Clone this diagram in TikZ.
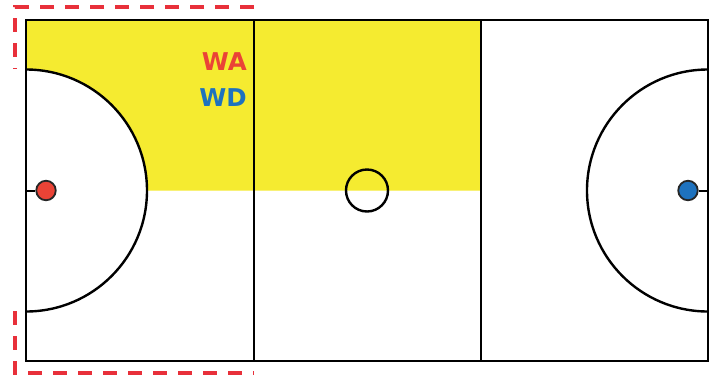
\documentclass[tikz,border=0pt]{standalone}
\usepackage{fontspec}
\setmainfont{DejaVu Sans}
\begin{document}
\begin{tikzpicture}[x=1pt,y=-1pt,
  courtline/.style={draw=black,line width=2.4pt},
  thirdline/.style={draw=black,line width=2.3pt},
  zonebox/.style={draw=zonered,line width=3.2pt,dash pattern=on 14pt off 11pt},
  dotstyle/.style={circle,draw=black!85,line width=1.8pt,minimum size=19.5pt,inner sep=0pt},
  poslabel/.style={font=\bfseries\fontsize{24.5}{26}\selectfont,inner sep=0pt,anchor=east}]
\definecolor{zonered}{HTML}{E8303A}
\definecolor{wared}{HTML}{EA4336}
\definecolor{wdblue}{HTML}{1E72BE}
\definecolor{courtyellow}{HTML}{F5EB30}
\useasboundingbox (0,0) rectangle (716,376);
\fill[white] (0,0) rectangle (716,376);
% yellow zone
\fill[courtyellow] (26,20) -- (481,20) -- (481,190.5) -- (147,190.5)
  arc[start angle=0,end angle=-90,radius=121] -- cycle;
% court
\coordinate (tl) at (26,20);
\coordinate (br) at (708,361);
\draw[courtline] (tl) rectangle (br);
\coordinate (t1) at (254,20); \coordinate (b1) at (254,361);
\coordinate (t2) at (481,20); \coordinate (b2) at (481,361);
\draw[thirdline] (t1) -- (b1);
\draw[thirdline] (t2) -- (b2);
% shooting circles
\draw[courtline] (26,69.5) arc[start angle=-90,end angle=90,radius=121];
\draw[courtline] (708,69.5) arc[start angle=270,end angle=90,radius=121];
% centre circle
\node[circle,draw=black,line width=2.4pt,minimum size=42pt,inner sep=0pt] (cc) at (367,190.5) {};
% goal posts
\coordinate (lp) at (26,190.5);
\coordinate (rp) at (708,190.5);
\node[dotstyle,fill=wared] (ldot) at (46,190.5) {};
\node[dotstyle,fill=wdblue] (rdot) at (688,190.5) {};
\draw[line width=2pt] (lp) -- (ldot);
\draw[line width=2pt] (rp) -- (rdot);
% labels
\node[poslabel,text=wared] (wa) at (247,62) {WA};
\node[poslabel,text=wdblue] (wd) at (247,98) {WD};
% dashed zone outline
\draw[zonebox] (254,7) -- (15,7) -- (15,69);
\draw[zonebox] (15,311) -- (15,373) -- (254,373);
\end{tikzpicture}
\end{document}
